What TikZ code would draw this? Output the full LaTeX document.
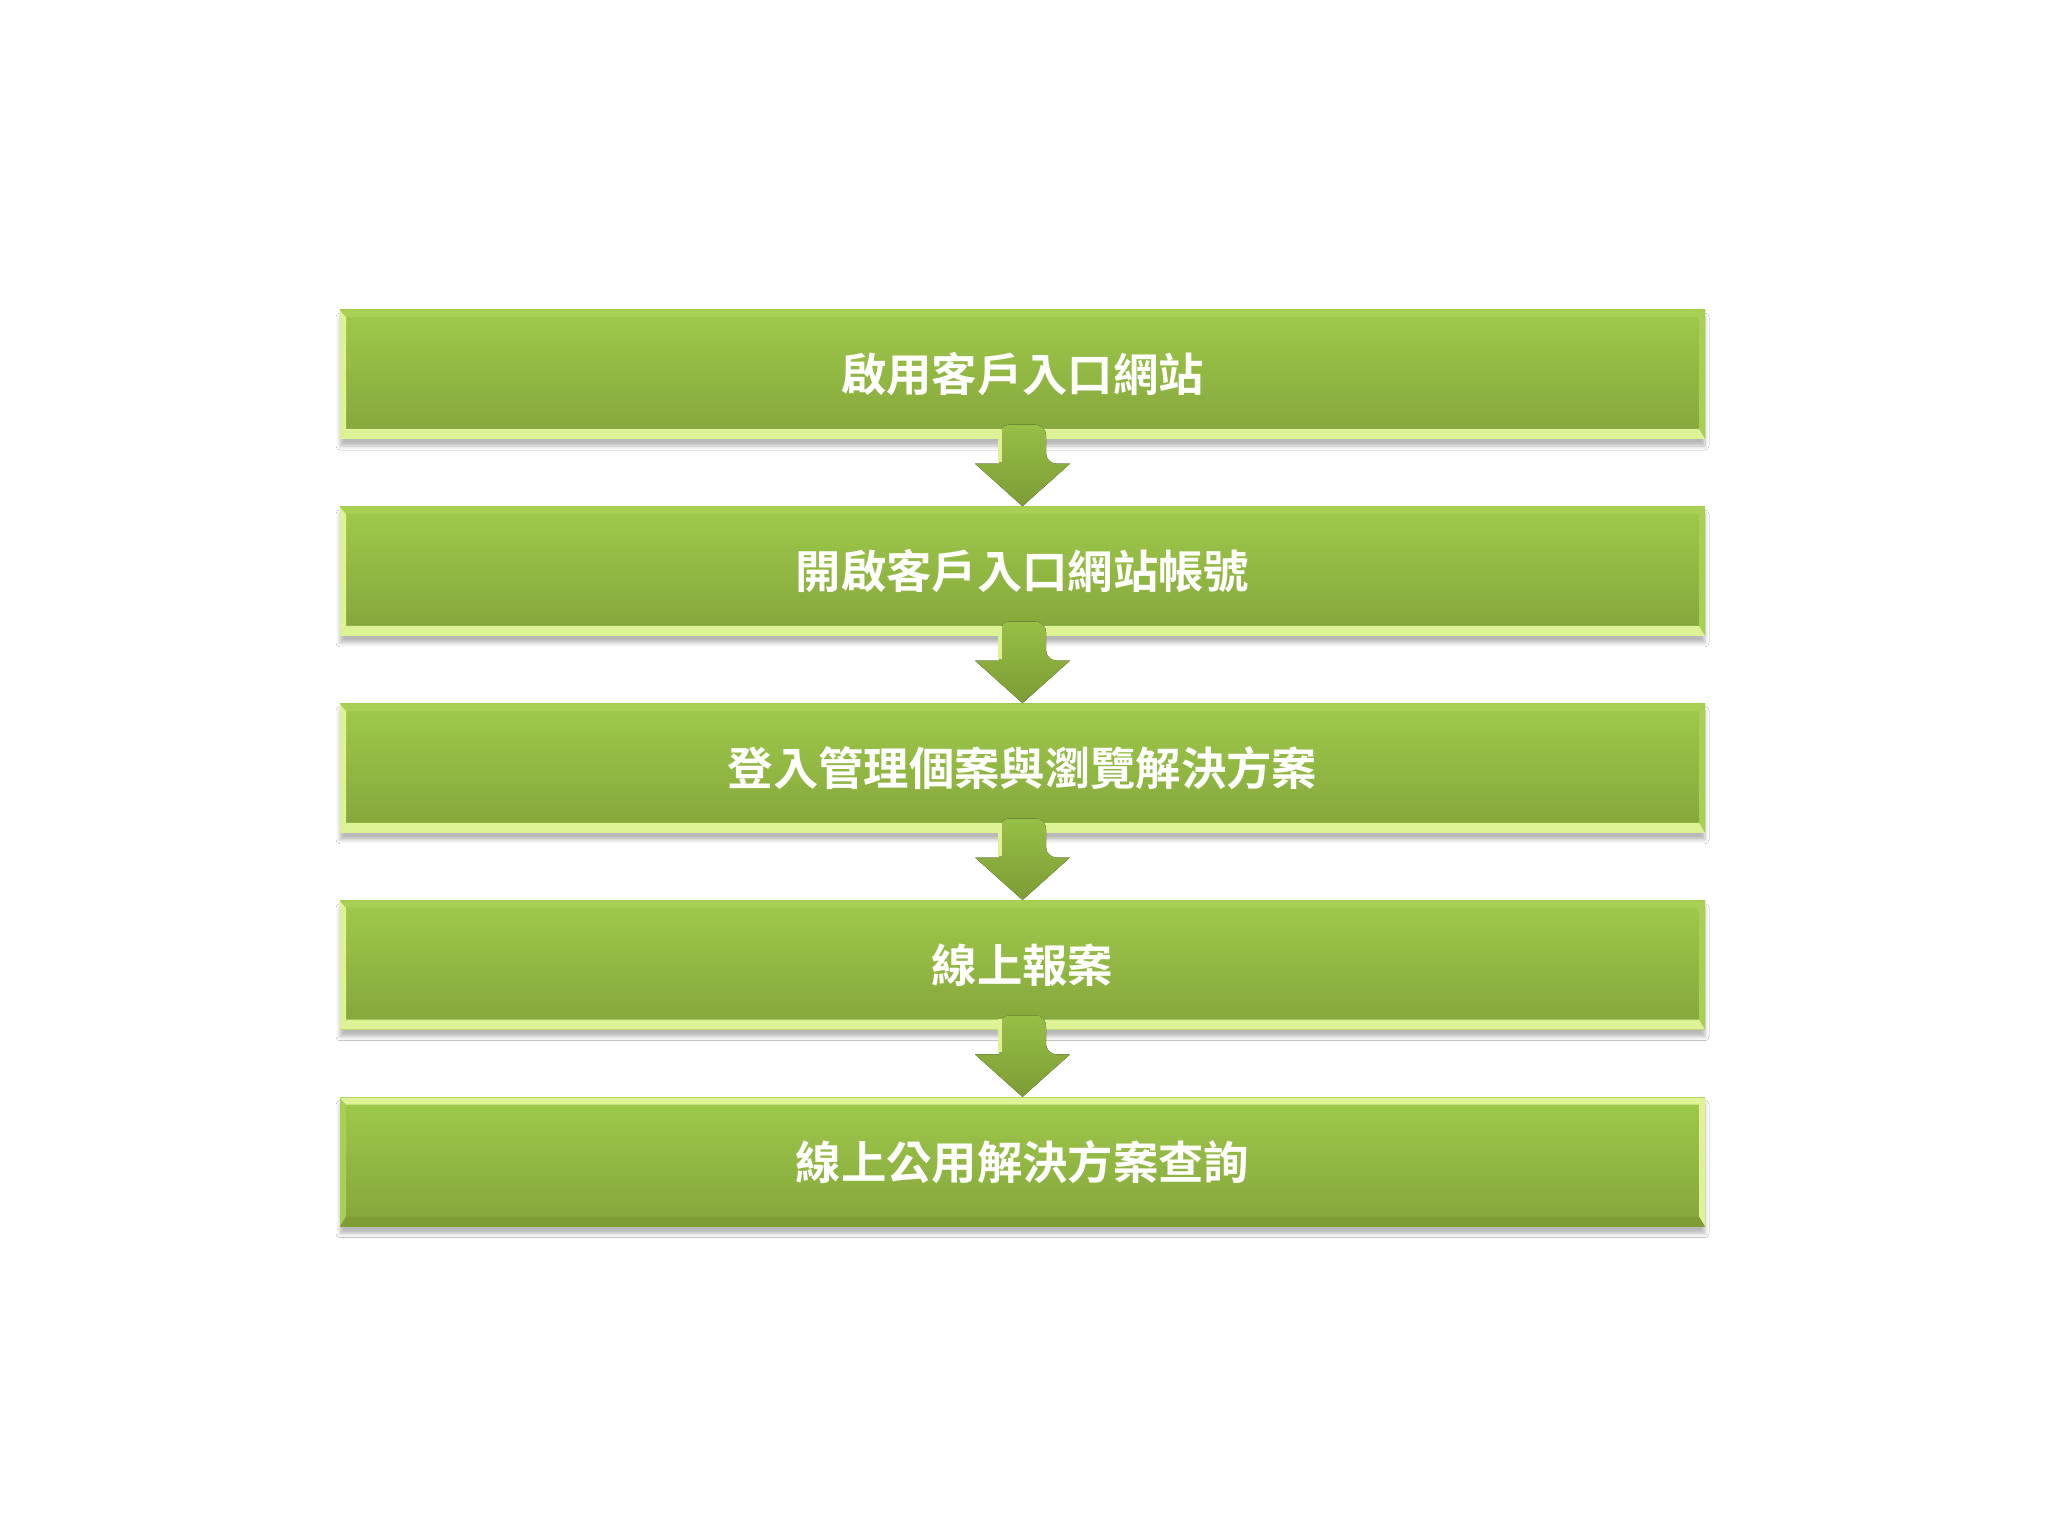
\documentclass[tikz,border=0pt]{standalone}
\usepackage{fontspec}
\newfontfamily\cjk{Noto Sans CJK TC}[BoldFont={Noto Sans CJK TC Bold}]
\usetikzlibrary{positioning,shadows.blur}

\definecolor{boxtop}{HTML}{9FCA4B}
\definecolor{boxbot}{HTML}{84A53B}
\definecolor{bevlight}{HTML}{DDF396}
\definecolor{bevside}{HTML}{A8D055}
\definecolor{bevdark}{HTML}{7E9D36}
\definecolor{arrowtop}{HTML}{97BF46}
\definecolor{arrowbot}{HTML}{7C9C34}

% bevel strips: left, right, top, bottom
\newcommand{\bevelbox}[4]{%
\fill[#1] (path picture bounding box.south west) -- (path picture bounding box.north west)
  -- ([shift={(0.06,-0.07)}]path picture bounding box.north west) -- ([shift={(0.06,0.1)}]path picture bounding box.south west) -- cycle;
\fill[#2] (path picture bounding box.south east) -- (path picture bounding box.north east)
  -- ([shift={(-0.06,-0.07)}]path picture bounding box.north east) -- ([shift={(-0.06,0.1)}]path picture bounding box.south east) -- cycle;
\fill[#3] (path picture bounding box.north west) -- (path picture bounding box.north east)
  -- ([shift={(-0.06,-0.07)}]path picture bounding box.north east) -- ([shift={(0.06,-0.07)}]path picture bounding box.north west) -- cycle;
\fill[#4] (path picture bounding box.south west) -- (path picture bounding box.south east)
  -- ([shift={(-0.06,0.1)}]path picture bounding box.south east) -- ([shift={(0.06,0.1)}]path picture bounding box.south west) -- cycle;
}

% arrow from the bottom of one box to the top of the next
\newcommand{\flowarrow}[2]{%
\fill[top color=arrowtop, bottom color=arrowbot, rounded corners=3pt]
  ([shift={(-0.235,-0.24)}]#1.south) -- ([shift={(-0.235,0.15)}]#1.south)
  -- ([shift={(0.235,0.15)}]#1.south) -- ([shift={(0.235,-0.24)}]#1.south)
  [sharp corners] -- ([shift={(0.475,-0.24)}]#1.south) -- (#2.north)
  -- ([shift={(-0.475,-0.24)}]#1.south) -- cycle;
\draw[bevlight, line width=1.2pt] ([shift={(-0.225,-0.22)}]#1.south) -- ([shift={(-0.225,0.11)}]#1.south);
}

\tikzset{
  stepbox/.style={minimum width=13.65cm, minimum height=1.29cm, inner sep=0pt,
    top color=boxtop, bottom color=boxbot, text=white,
    font=\cjk\bfseries\fontsize{12.9pt}{14pt}\selectfont,
    blur shadow={shadow xshift=0pt, shadow yshift=-0.07cm, shadow blur radius=0.04cm, shadow opacity=28},
    path picture={\bevelbox{bevlight}{bevside}{bevside}{bevlight}}},
  laststep/.style={stepbox,
    path picture={\bevelbox{bevside}{bevlight}{bevlight}{bevdark}}},
}

\begin{document}
\begin{tikzpicture}
\fill[white] (0,0) rectangle (20.48,-15.36);
\useasboundingbox (0,0) rectangle (20.48,-15.36);

\node (portal) at (10.225,-3.745) [stepbox] {啟用客戶入口網站};
\node (account) [stepbox, below=0.665cm of portal] {開啟客戶入口網站帳號};
\node (login) [stepbox, below=0.665cm of account] {登入管理個案與瀏覽解決方案};
\node (report) [stepbox, below=0.665cm of login] {線上報案};
\node (query) [laststep, below=0.665cm of report] {線上公用解決方案查詢};

\flowarrow{portal}{account}
\flowarrow{account}{login}
\flowarrow{login}{report}
\flowarrow{report}{query}
\end{tikzpicture}
\end{document}
